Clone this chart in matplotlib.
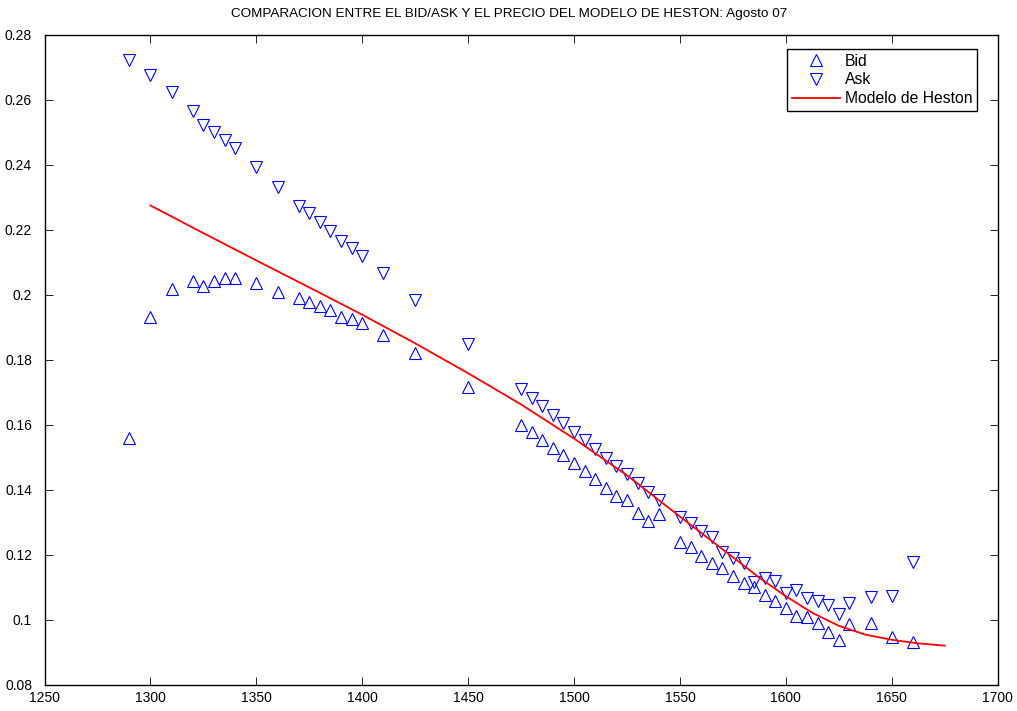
import matplotlib
matplotlib.use("Agg")
import matplotlib.pyplot as plt
from matplotlib.ticker import FuncFormatter, MultipleLocator

plt.rcParams['font.family'] = ['Liberation Sans', 'DejaVu Sans']

# Strikes and quoted prices
strikes = [1290, 1300, 1310, 1320, 1325, 1330, 1335, 1340, 1350, 1360,
           1370, 1375, 1380, 1385, 1390, 1395, 1400, 1410, 1425, 1450,
           1475, 1480, 1485, 1490, 1495, 1500, 1505, 1510, 1515, 1520,
           1525, 1530, 1535, 1540, 1550, 1555, 1560, 1565, 1570, 1575,
           1580, 1585, 1590, 1595, 1600, 1605, 1610, 1615, 1620, 1625,
           1630, 1640, 1650, 1660]

bid = [0.1559, 0.1933, 0.2018, 0.2044, 0.2028, 0.2043, 0.2051, 0.2051, 0.2038, 0.2009,
       0.1989, 0.1978, 0.1967, 0.1954, 0.1933, 0.1925, 0.1915, 0.1878, 0.1822, 0.1718,
       0.1600, 0.1578, 0.1554, 0.1528, 0.1508, 0.1482, 0.1458, 0.1434, 0.1407, 0.1382,
       0.1369, 0.1330, 0.1305, 0.1325, 0.1241, 0.1224, 0.1198, 0.1174, 0.1159, 0.1135,
       0.1113, 0.1102, 0.1077, 0.1058, 0.1036, 0.1012, 0.1010, 0.0990, 0.0964, 0.0938,
       0.0988, 0.0992, 0.0949, 0.0933]

ask = [0.2723, 0.2676, 0.2624, 0.2565, 0.2524, 0.2502, 0.2478, 0.2451, 0.2393, 0.2331,
       0.2275, 0.2251, 0.2225, 0.2196, 0.2166, 0.2144, 0.2120, 0.2067, 0.1984, 0.1848,
       0.1711, 0.1684, 0.1659, 0.1631, 0.1607, 0.1579, 0.1553, 0.1526, 0.1498, 0.1474,
       0.1448, 0.1421, 0.1395, 0.1368, 0.1317, 0.1297, 0.1275, 0.1256, 0.1210, 0.1190,
       0.1174, 0.1116, 0.1130, 0.1120, 0.1082, 0.1092, 0.1067, 0.1058, 0.1046, 0.1018,
       0.1051, 0.1072, 0.1075, 0.1179]

# Heston model prices
model_strikes = [1300, 1325, 1350, 1375, 1400, 1425, 1450, 1475, 1500, 1525,
                 1550, 1575, 1587.5, 1600, 1612.5, 1625, 1637.5, 1650, 1662.5, 1675]
model_price = [0.2275, 0.2190, 0.2106, 0.2023, 0.1939, 0.1851, 0.1759, 0.1663, 0.1558, 0.1445,
               0.1318, 0.1193, 0.1130, 0.1073, 0.1022, 0.0982, 0.0955, 0.0939, 0.0928, 0.0921]

title = "COMPARACION ENTRE EL BID/ASK Y EL PRECIO DEL MODELO DE HESTON: Agosto 07"

fig = plt.figure(figsize=(10.17, 7.11), dpi=100)
ax = fig.add_axes([0.0438, 0.0366, 0.9372, 0.9144])

ax.plot(strikes, bid, linestyle='none', marker='^', markersize=8,
        markerfacecolor='none', markeredgecolor='#0000ff', markeredgewidth=0.8,
        label='Bid')
ax.plot(strikes, ask, linestyle='none', marker='v', markersize=8,
        markerfacecolor='none', markeredgecolor='#0000ff', markeredgewidth=0.8,
        label='Ask')
ax.plot(model_strikes, model_price, color='#ff0000', linewidth=1.3,
        label='Modelo de Heston')

ax.set_xlim(1250, 1700)
ax.set_ylim(0.08, 0.28)
ax.xaxis.set_major_locator(MultipleLocator(50))
ax.yaxis.set_major_locator(MultipleLocator(0.02))
ax.yaxis.set_major_formatter(FuncFormatter(lambda v, p: f"{v:.2f}".rstrip('0').rstrip('.') if v else "0"))
ax.tick_params(direction='in', top=True, right=True, length=6, width=0.6,
               labelsize=10)
ax.tick_params(axis='y', pad=9)
ax.tick_params(axis='x', pad=4)
for s in ax.spines.values():
    s.set_linewidth(1.0)

ax.set_title(title, fontsize=9.7, pad=13, x=0.487)

leg = ax.legend(loc='upper right', bbox_to_anchor=(0.9784, 0.9785), fontsize=11.3,
                frameon=True, fancybox=False, edgecolor='black', framealpha=1,
                borderpad=0.3, labelspacing=0.25, handlelength=3.06,
                handletextpad=0.32, borderaxespad=0.0)
leg.get_frame().set_linewidth(1.0)

fig.savefig("out.png", dpi=100)
